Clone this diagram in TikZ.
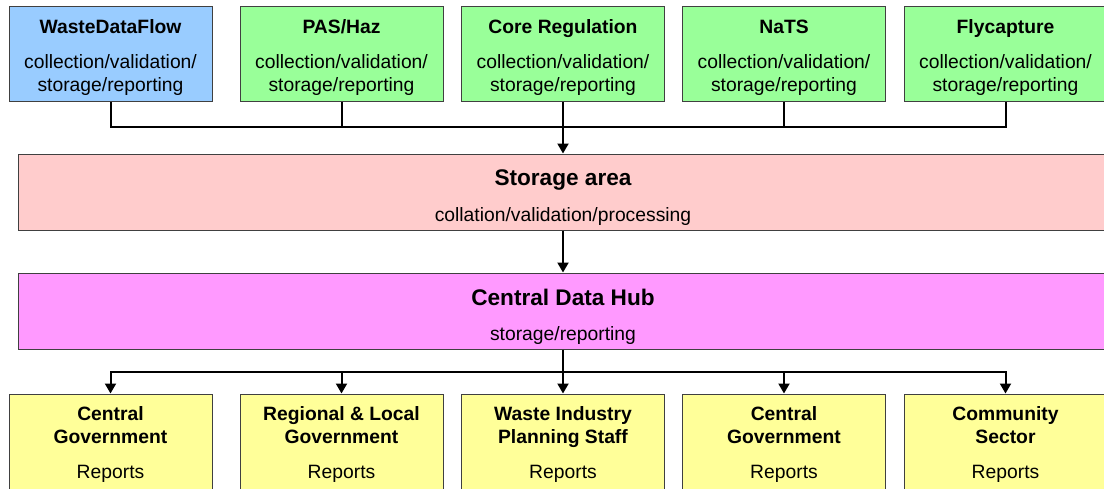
\documentclass[tikz,border=0pt]{standalone}
\usepackage{fontspec}
\setmainfont{Liberation Sans}
\usetikzlibrary{arrows.meta}
\definecolor{wdfblue}{HTML}{99CCFF}
\definecolor{srcgreen}{HTML}{99FF99}
\definecolor{storepink}{HTML}{FFCCCC}
\definecolor{hubmagenta}{HTML}{FF99FF}
\definecolor{useyellow}{HTML}{FFFF99}
\newcommand{\padtop}[1]{\rule{0pt}{#1}}
\begin{document}
\begin{tikzpicture}[x=1pt,y=-1pt,
    box/.style={draw=black!75,line width=1pt,minimum width=203pt,align=center,inner sep=0pt,
      font=\fontsize{19.3}{23}\selectfont},
    wide/.style={box,minimum width=1090pt,minimum height=76pt},
    link/.style={line width=2pt},
    feed/.style={link,-{Triangle[length=10pt,width=11pt]}}]
      \useasboundingbox (0,0) rectangle (1104,488);
      \clip (0,0) rectangle (1104,488);
      % data sources
      \foreach \i/\x/\name/\col in {1/110.5/WasteDataFlow/wdfblue,2/341.5/{PAS/Haz}/srcgreen,
          3/563/Core Regulation/srcgreen,4/784/NaTS/srcgreen,5/1005.5/Flycapture/srcgreen} {
        \node[box,fill=\col,minimum height=95pt] (src\i) at (\x,53.5)
          {\padtop{22pt}\textbf{\name}\\[12pt]collection/validation/\\storage/reporting};
      }
      \node[wide,fill=storepink] (store) at (563,192)
        {\padtop{26pt}{\fontsize{22.6}{27}\selectfont\bfseries Storage area}\\[13pt]collation/validation/processing};
      \node[wide,fill=hubmagenta] (hub) at (563,311)
        {\padtop{28pt}{\fontsize{22.6}{27}\selectfont\bfseries Central Data Hub}\\[12pt]storage/reporting};
      % users
      \foreach \i/\x/\name in {1/110.5/{\textbf{Central}\\\textbf{Government}},
          2/341.5/{\textbf{Regional \& Local}\\\textbf{Government}},
          3/563/{\textbf{Waste Industry}\\\textbf{Planning Staff}},
          4/784/{\textbf{Central}\\\textbf{Government}},
          5/1005.5/{\textbf{Community}\\\textbf{Sector}}} {
        \node[box,fill=useyellow,minimum height=96pt] (use\i) at (\x,442)
          {\padtop{19pt}\name\\[12pt]Reports};
      }
      % connectors
      \coordinate (topjoin) at (563,127);
      \foreach \i in {1,...,5} {
        \draw[link] (src\i.south) |- (topjoin);
      }
      \draw[feed] (topjoin) -- (store.north);
      \draw[feed] (store.south) -- (hub.north);
      \coordinate (botjoin) at (563,372);
      \draw[link] (hub.south) -- (botjoin);
      \foreach \i in {1,...,5} {
        \draw[feed] (botjoin) -| (use\i.north);
      }
    \end{tikzpicture}
\end{document}
